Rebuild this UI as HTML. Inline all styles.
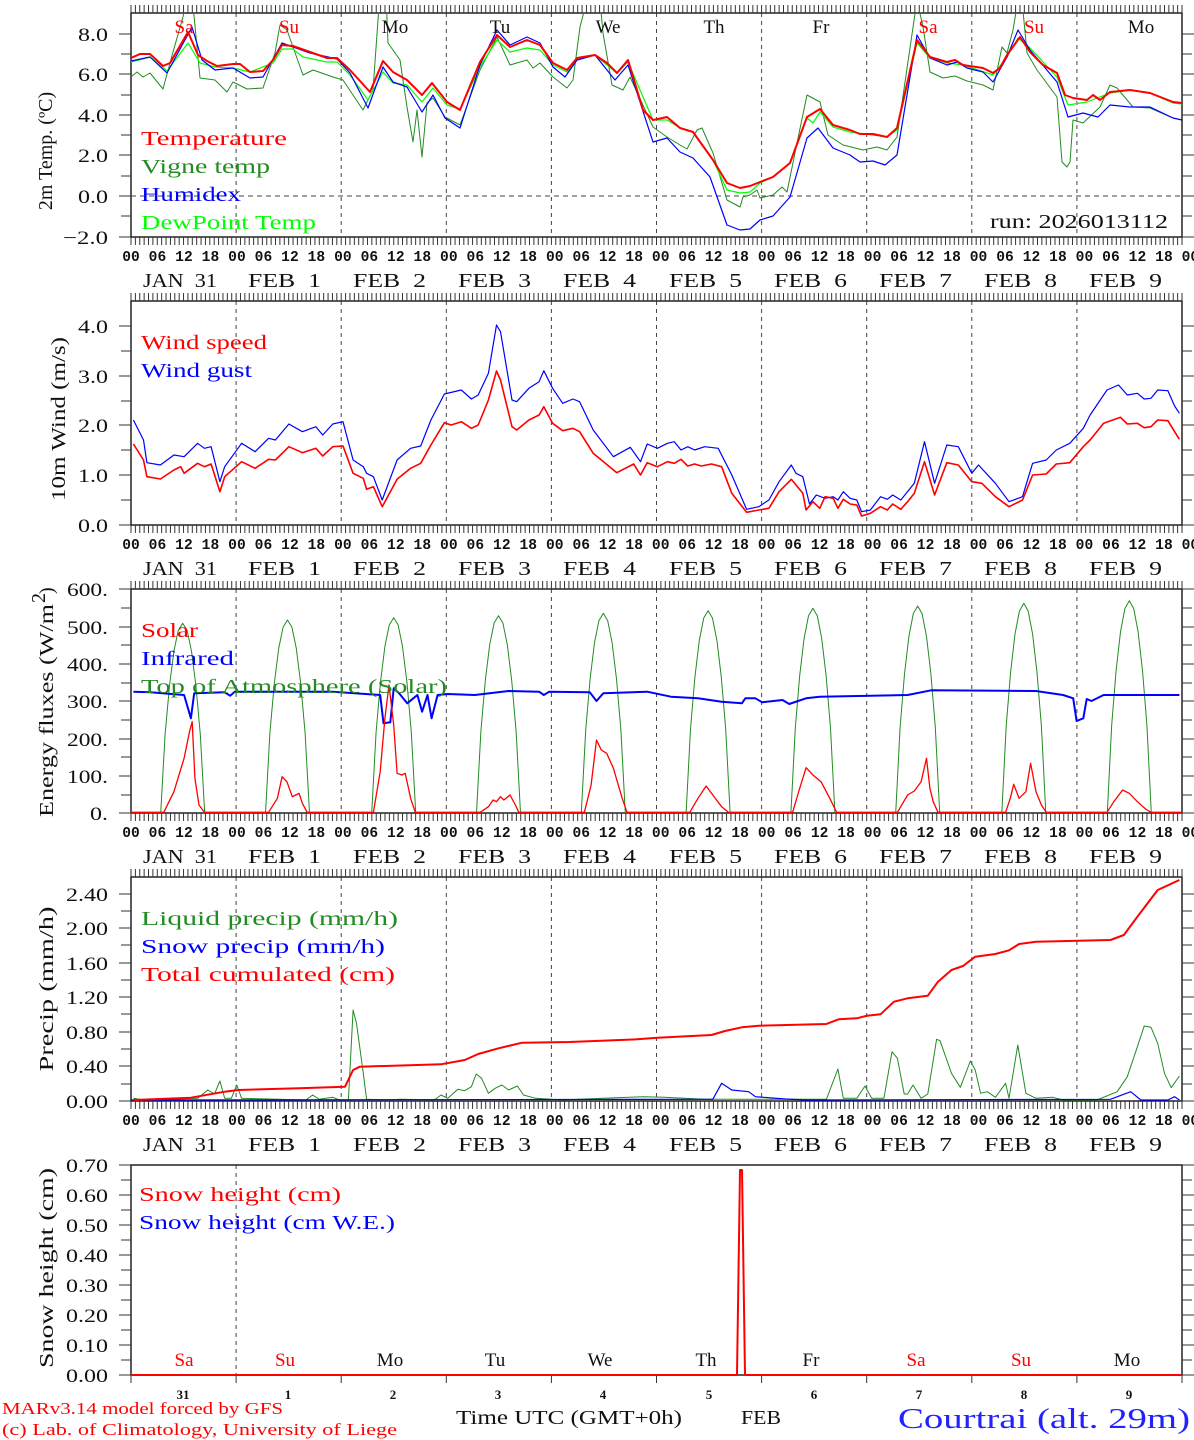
<!DOCTYPE html>
<html><head><meta charset="utf-8">
<style>
html,body{margin:0;padding:0;background:#fff;}
svg{display:block;}
text{font-family:"Liberation Serif",serif;}
.tk{font-family:"Liberation Mono",monospace;font-size:14.6px;font-weight:bold;fill:#111;}
.yl{font-size:19px;fill:#111;text-anchor:end;}
.dt{font-size:20px;fill:#111;}
.lg{font-size:20px;}
.ttl{font-size:20px;fill:#111;}
.wd{font-size:19px;text-anchor:middle;}
</style></head>
<body>
<svg id="s" width="1194" height="1440" viewBox="0 0 1194 1440" xmlns="http://www.w3.org/2000/svg" xmlns:xlink="http://www.w3.org/1999/xlink">
<defs>
<clipPath id="c1"><rect x="131" y="13" width="1051" height="224"/></clipPath>
<clipPath id="c2"><rect x="131" y="301" width="1051" height="224"/></clipPath>
<clipPath id="c3"><rect x="131" y="589" width="1051" height="224"/></clipPath>
<clipPath id="c4"><rect x="131" y="877" width="1051" height="224"/></clipPath>
<clipPath id="c5"><rect x="131" y="1165" width="1051" height="211"/></clipPath>
<g id="xrow">
<text class="tk" x="122.2" y="0" textLength="1077" lengthAdjust="spacing" xml:space="preserve">00 06 12 18 00 06 12 18 00 06 12 18 00 06 12 18 00 06 12 18 00 06 12 18 00 06 12 18 00 06 12 18 00 06 12 18 00 06 12 18 00</text>
<text class="dt" x="143" y="26" textLength="74" lengthAdjust="spacingAndGlyphs" xml:space="preserve">JAN  31</text>
<text class="dt" x="248" y="26" textLength="73" lengthAdjust="spacingAndGlyphs" xml:space="preserve">FEB  1</text>
<text class="dt" x="353" y="26" textLength="73" lengthAdjust="spacingAndGlyphs" xml:space="preserve">FEB  2</text>
<text class="dt" x="458" y="26" textLength="73" lengthAdjust="spacingAndGlyphs" xml:space="preserve">FEB  3</text>
<text class="dt" x="563" y="26" textLength="73" lengthAdjust="spacingAndGlyphs" xml:space="preserve">FEB  4</text>
<text class="dt" x="669" y="26" textLength="73" lengthAdjust="spacingAndGlyphs" xml:space="preserve">FEB  5</text>
<text class="dt" x="774" y="26" textLength="73" lengthAdjust="spacingAndGlyphs" xml:space="preserve">FEB  6</text>
<text class="dt" x="879" y="26" textLength="73" lengthAdjust="spacingAndGlyphs" xml:space="preserve">FEB  7</text>
<text class="dt" x="984" y="26" textLength="73" lengthAdjust="spacingAndGlyphs" xml:space="preserve">FEB  8</text>
<text class="dt" x="1089" y="26" textLength="73" lengthAdjust="spacingAndGlyphs" xml:space="preserve">FEB  9</text>
</g>
</defs>
<g id="grid" fill="none"></g>
<g id="series" fill="none"></g>

<use xlink:href="#xrow" href="#xrow" y="261"/>
<use xlink:href="#xrow" href="#xrow" y="549"/>
<use xlink:href="#xrow" href="#xrow" y="837"/>
<use xlink:href="#xrow" href="#xrow" y="1125"/>

<g class="wd">
<text x="184" y="33" fill="#f00">Sa</text><text x="289" y="33" fill="#f00">Su</text>
<text x="395" y="33" fill="#111">Mo</text><text x="500" y="33" fill="#111">Tu</text>
<text x="608" y="33" fill="#111">We</text><text x="714" y="33" fill="#111">Th</text>
<text x="821" y="33" fill="#111">Fr</text><text x="928" y="33" fill="#f00">Sa</text>
<text x="1034" y="33" fill="#f00">Su</text><text x="1141" y="33" fill="#111">Mo</text>
</g>
<g class="lg">
<text x="141" y="145" fill="#f00" textLength="146" lengthAdjust="spacingAndGlyphs">Temperature</text>
<text x="141" y="173" fill="#228b22" textLength="129" lengthAdjust="spacingAndGlyphs">Vigne temp</text>
<text x="141" y="201" fill="#00f" textLength="100" lengthAdjust="spacingAndGlyphs">Humidex</text>
<text x="141" y="229" fill="#0f0" textLength="175" lengthAdjust="spacingAndGlyphs">DewPoint Temp</text>
<text x="990" y="228" fill="#111" textLength="178" lengthAdjust="spacingAndGlyphs">run: 2026013112</text>
</g>
<g class="yl">
<text x="108" y="41" textLength="30" lengthAdjust="spacingAndGlyphs">8.0</text>
<text x="108" y="81" textLength="30" lengthAdjust="spacingAndGlyphs">6.0</text>
<text x="108" y="122" textLength="30" lengthAdjust="spacingAndGlyphs">4.0</text>
<text x="108" y="162" textLength="30" lengthAdjust="spacingAndGlyphs">2.0</text>
<text x="108" y="203" textLength="30" lengthAdjust="spacingAndGlyphs">0.0</text>
<text x="108" y="244" textLength="45" lengthAdjust="spacingAndGlyphs">−2.0</text>
</g>
<text class="ttl" transform="translate(52,151) rotate(-90)" text-anchor="middle">2m Temp. (ºC)</text>

<text class="lg" x="141" y="349" fill="#f00" textLength="126" lengthAdjust="spacingAndGlyphs">Wind speed</text>
<text class="lg" x="141" y="377" fill="#00f" textLength="111" lengthAdjust="spacingAndGlyphs">Wind gust</text>
<g class="yl">
<text x="108" y="333" textLength="30" lengthAdjust="spacingAndGlyphs">4.0</text>
<text x="108" y="383" textLength="30" lengthAdjust="spacingAndGlyphs">3.0</text>
<text x="108" y="432" textLength="30" lengthAdjust="spacingAndGlyphs">2.0</text>
<text x="108" y="482" textLength="30" lengthAdjust="spacingAndGlyphs">1.0</text>
<text x="108" y="532" textLength="30" lengthAdjust="spacingAndGlyphs">0.0</text>
</g>
<text class="ttl" transform="translate(65,419) rotate(-90)" text-anchor="middle" textLength="164" lengthAdjust="spacingAndGlyphs">10m Wind (m/s)</text>

<text class="lg" x="141" y="637" fill="#f00" textLength="57" lengthAdjust="spacingAndGlyphs">Solar</text>
<text class="lg" x="141" y="665" fill="#00f" textLength="93" lengthAdjust="spacingAndGlyphs">Infrared</text>
<text class="lg" x="141" y="693" fill="#228b22" textLength="306" lengthAdjust="spacingAndGlyphs">Top of Atmosphere (Solar)</text>
<g class="yl">
<text x="108" y="596" textLength="41" lengthAdjust="spacingAndGlyphs">600.</text>
<text x="108" y="634" textLength="41" lengthAdjust="spacingAndGlyphs">500.</text>
<text x="108" y="671" textLength="41" lengthAdjust="spacingAndGlyphs">400.</text>
<text x="108" y="708" textLength="41" lengthAdjust="spacingAndGlyphs">300.</text>
<text x="108" y="746" textLength="41" lengthAdjust="spacingAndGlyphs">200.</text>
<text x="108" y="783" textLength="41" lengthAdjust="spacingAndGlyphs">100.</text>
<text x="108" y="820" textLength="18" lengthAdjust="spacingAndGlyphs">0.</text>
</g>
<g transform="translate(53,701) rotate(-90)">
<text class="ttl" x="-116" y="0" textLength="213" lengthAdjust="spacingAndGlyphs">Energy fluxes (W/m</text>
<text class="ttl" x="98" y="-8" font-size="13">2</text>
<text class="ttl" x="107" y="0">)</text>
</g>

<text class="lg" x="141" y="925" fill="#228b22" textLength="257" lengthAdjust="spacingAndGlyphs">Liquid precip (mm/h)</text>
<text class="lg" x="141" y="953" fill="#00f" textLength="244" lengthAdjust="spacingAndGlyphs">Snow precip (mm/h)</text>
<text class="lg" x="141" y="981" fill="#f00" textLength="254" lengthAdjust="spacingAndGlyphs">Total cumulated (cm)</text>
<g class="yl">
<text x="108" y="901" textLength="42" lengthAdjust="spacingAndGlyphs">2.40</text>
<text x="108" y="935" textLength="42" lengthAdjust="spacingAndGlyphs">2.00</text>
<text x="108" y="970" textLength="42" lengthAdjust="spacingAndGlyphs">1.60</text>
<text x="108" y="1004" textLength="42" lengthAdjust="spacingAndGlyphs">1.20</text>
<text x="108" y="1039" textLength="42" lengthAdjust="spacingAndGlyphs">0.80</text>
<text x="108" y="1073" textLength="42" lengthAdjust="spacingAndGlyphs">0.40</text>
<text x="108" y="1108" textLength="42" lengthAdjust="spacingAndGlyphs">0.00</text>
</g>
<text class="ttl" transform="translate(53,989) rotate(-90)" text-anchor="middle" textLength="165" lengthAdjust="spacingAndGlyphs">Precip (mm/h)</text>

<text class="lg" x="139" y="1201" fill="#f00" textLength="202" lengthAdjust="spacingAndGlyphs">Snow height (cm)</text>
<text class="lg" x="139" y="1229" fill="#00f" textLength="256" lengthAdjust="spacingAndGlyphs">Snow height (cm W.E.)</text>
<g class="yl">
<text x="108" y="1172" textLength="42" lengthAdjust="spacingAndGlyphs">0.70</text>
<text x="108" y="1202" textLength="42" lengthAdjust="spacingAndGlyphs">0.60</text>
<text x="108" y="1232" textLength="42" lengthAdjust="spacingAndGlyphs">0.50</text>
<text x="108" y="1262" textLength="42" lengthAdjust="spacingAndGlyphs">0.40</text>
<text x="108" y="1292" textLength="42" lengthAdjust="spacingAndGlyphs">0.30</text>
<text x="108" y="1322" textLength="42" lengthAdjust="spacingAndGlyphs">0.20</text>
<text x="108" y="1352" textLength="42" lengthAdjust="spacingAndGlyphs">0.10</text>
<text x="108" y="1382" textLength="42" lengthAdjust="spacingAndGlyphs">0.00</text>
</g>
<text class="ttl" transform="translate(53,1268) rotate(-90)" text-anchor="middle" textLength="200" lengthAdjust="spacingAndGlyphs">Snow height (cm)</text>
<g class="wd">
<text x="184" y="1366" fill="#f00">Sa</text><text x="285" y="1366" fill="#f00">Su</text>
<text x="390" y="1366" fill="#111">Mo</text><text x="495" y="1366" fill="#111">Tu</text>
<text x="600" y="1366" fill="#111">We</text><text x="706" y="1366" fill="#111">Th</text>
<text x="811" y="1366" fill="#111">Fr</text><text x="916" y="1366" fill="#f00">Sa</text>
<text x="1021" y="1366" fill="#f00">Su</text><text x="1127" y="1366" fill="#111">Mo</text>
</g>
<g font-size="13" font-weight="bold" fill="#111" text-anchor="middle">
<text x="183" y="1399">31</text><text x="288" y="1399">1</text><text x="393" y="1399">2</text>
<text x="498" y="1399">3</text><text x="603" y="1399">4</text><text x="709" y="1399">5</text>
<text x="814" y="1399">6</text><text x="919" y="1399">7</text><text x="1024" y="1399">8</text>
<text x="1129" y="1399">9</text>
</g>
<text x="2" y="1414" font-size="17" fill="#f00" textLength="281" lengthAdjust="spacingAndGlyphs">MARv3.14 model forced by GFS</text>
<text x="2" y="1435" font-size="17" fill="#f00" textLength="395" lengthAdjust="spacingAndGlyphs">(c) Lab. of Climatology, University of Liege</text>
<text x="456" y="1424" font-size="20" fill="#111" textLength="226" lengthAdjust="spacingAndGlyphs">Time UTC (GMT+0h)</text>
<text x="741" y="1424" font-size="20" fill="#111" textLength="40" lengthAdjust="spacingAndGlyphs">FEB</text>
<text x="898" y="1428" font-size="28" fill="#22f" textLength="292" lengthAdjust="spacingAndGlyphs">Courtrai (alt. 29m)</text>
</svg>
<script>
(function(){
var NS="http://www.w3.org/2000/svg";
var G=document.getElementById("grid"),S=document.getElementById("series");
function el(p,tag,a){var e=document.createElementNS(NS,tag);for(var k in a)e.setAttribute(k,a[k]);p.appendChild(e);return e;}
var X0=131,X1=1182,DW=(X1-X0)/10;
var panels=[[13,237],[301,525],[589,813],[877,1101],[1165,1375]];
var ticksY=[
 {v:[[34,1],[54,0],[74,1],[95,0],[115,1],[135,0],[155,1],[176,0],[196,1],[216,0],[237,1]]},
 {v:[[326,1],[351,0],[376,1],[401,0],[425,1],[450,0],[475,1],[500,0],[525,1]]},
 {v:[[589,1],[608,0],[627,1],[645,0],[664,1],[683,0],[701,1],[720,0],[739,1],[757,0],[776,1],[795,0],[813,1]]},
 {v:[[894,1],[911,0],[928,1],[945,0],[963,1],[980,0],[997,1],[1014,0],[1032,1],[1049,0],[1066,1],[1084,0],[1101,1]]},
 {v:[[1165,1],[1180,0],[1195,1],[1210,0],[1225,1],[1240,0],[1255,1],[1270,0],[1285,1],[1300,0],[1315,1],[1330,0],[1345,1],[1360,0],[1375,1]]}
];
var d="";
panels.forEach(function(p,i){
  var t=p[0],b=p[1];
  var dd="";
  for(var k=1;k<10;k++){ if(i==4&&k!=1)continue; var x=X0+k*DW; dd+="M"+x+" "+t+"V"+b;}
  el(G,"path",{d:dd,stroke:"#444","stroke-width":1,"stroke-dasharray":"4,4"});
  if(i<4){
    for(var h=0;h<=240;h++){var x=X0+h*DW/24; d+="M"+x+" "+t+"v-8M"+x+" "+b+"v8";}
  } else {
    for(var k=0;k<=10;k++){var x=X0+k*DW; d+="M"+x+" "+b+"v8";}
  }
  ticksY[i].v.forEach(function(q){var L=q[1]?12:10; d+="M"+X0+" "+q[0]+"h-"+L+"M"+X1+" "+q[0]+"h"+L;});
  el(G,"rect",{x:X0,y:t,width:X1-X0,height:b-t,stroke:"#222","stroke-width":1.5});
});
el(G,"path",{d:d,stroke:"#333","stroke-width":1});
el(G,"path",{d:"M131 196H1182",stroke:"#444","stroke-width":1,"stroke-dasharray":"5,4"});

function P(pts,color,w,clip,fx){
  var s="";pts.forEach(function(q,i){var x=q[0],y=q[1];if(fx){var r=fx(x,y);x=r[0];y=r[1];}s+=(i?"L":"M")+x.toFixed(1)+" "+y.toFixed(1);});
  el(S,"path",{d:s,stroke:color,"stroke-width":w,"clip-path":"url(#"+clip+")","stroke-linejoin":"round"});
}
var vig=[[131,77],[137,72],[143,77],[150,73],[163,89],[173,52],[183,17],[188,-5],[192,-5],[200,78],[215,80],[227,92],[233,82],[247,89],[263,88],[275,53],[280,25],[287,30],[293,47],[303,75],[313,70],[333,77],[343,80],[363,110],[373,90],[378,20],[380,-5],[386,-5],[388,43],[400,60],[407,107],[413,142],[417,110],[422,157],[427,103],[433,98],[445,117],[460,125],[480,70],[497,37],[510,65],[527,60],[533,68],[540,63],[553,77],[567,88],[573,80],[580,27],[587,0],[600,0],[603,33],[612,85],[623,90],[630,77],[653,127],
[667,137],[680,145],[687,149],[697,130],[702,128],[713,153],[727,200],[740,207],[743,197],[750,195],[757,190],[760,198],[773,195],[782,187],[787,192],[797,143],[807,95],[820,102],[828,135],[843,145],[863,150],[877,147],[887,150],[897,137],[917,0],[923,27],[930,72],[943,78],[955,76],[967,81],[983,85],[993,90],[1002,47],[1007,53],[1013,30],[1018,0],[1022,0],[1027,53],[1037,70],[1057,97],[1062,162],[1067,167],[1070,162],[1073,120],[1083,123],[1100,107],[1110,85],[1117,88],[1133,107],[1150,108],[1173,118],[1182,120]];
var dew=[[131,62],[150,57],[167,71],[188,43],[200,63],[215,67],[233,68],[250,72],[273,63],[282,49],[293,49],[303,57],[327,62],[337,62],[350,75],[368,100],[383,72],[393,83],[407,85],[422,102],[433,88],[447,105],[460,109],[480,67],[497,40],[510,52],[527,48],[540,50],[553,65],[567,72],[577,60],[595,55],[607,65],[617,73],[628,62],[653,120],
[667,120],[680,128],[693,132],[713,160],[727,190],[740,193],[750,192],[760,183],[773,177],[790,163],[807,118],[813,123],[820,112],[833,127],[850,132],[873,135],[887,137],[897,130],[917,43],[930,58],[947,63],[963,65],[993,75],[1007,57],[1018,38],[1030,48],[1057,77],[1068,105],[1087,102],[1110,93],[1130,90],[1150,93],[1173,103],[1182,104]];
var hum=[[131,61],[150,57],[167,73],[192,27],[202,60],[215,70],[233,68],[250,78],[263,77],[282,43],[310,53],[337,59],[350,73],[368,108],[383,67],[393,82],[407,87],[422,112],[433,95],[445,118],[460,128],[480,65],[497,30],[510,45],[527,37],[540,43],[553,67],[565,77],[577,60],[595,55],[615,80],[628,65],[653,142],
[667,138],[680,152],[693,158],[710,177],[727,225],[740,230],[750,229],[760,220],[773,216],[790,197],[807,138],[818,128],[833,148],[850,155],[860,162],[873,161],[885,165],[897,155],[917,35],[930,58],[947,65],[957,62],[967,68],[983,72],[993,82],[1007,57],[1018,30],[1030,50],[1057,82],[1068,117],[1083,113],[1098,117],[1110,105],[1130,107],[1150,107],[1173,118],[1182,120]];
var tmp=[[131,58],[140,54],[150,54],[163,66],[170,63],[188,32],[198,55],[207,61],[217,66],[233,64],[240,64],[250,72],[263,71],[273,60],[282,45],[293,46],[310,52],[327,58],[337,58],[350,70],[370,92],[383,61],[393,72],[407,80],[422,95],[432,83],[447,102],[460,110],[480,62],[497,35],[510,47],[527,40],[540,45],[553,63],[567,70],[577,58],[595,55],[607,63],[617,73],[628,60],[643,110],[653,120],
[667,117],[680,128],[693,132],[713,160],[727,183],[740,188],[750,186],[760,182],[773,177],[790,163],[807,117],[820,109],[833,125],[850,130],[860,134],[873,134],[887,137],[897,128],[917,40],[930,57],[947,62],[955,60],[963,65],[983,68],[993,73],[1000,68],[1007,55],[1020,37],[1030,52],[1043,65],[1057,73],[1065,95],[1073,98],[1087,100],[1093,95],[1100,100],[1110,92],[1130,90],[1150,93],[1173,102],[1182,103]];
P(vig,"#228b22",1,"c1");P(dew,"#0f0",1.2,"c1");P(hum,"#00f",1.2,"c1");P(tmp,"#f00",2,"c1");

var f2=function(x,y){return [130+x/1.479,300+y/3];};
var gust=[[5,360],[20,420],[25,488],[45,495],[65,465],[80,470],[100,430],[110,445],[120,440],[133,545],[140,500],[165,430],[185,455],[205,415],[215,420],[235,372],[255,395],[275,380],[285,405],[300,372],[315,365],[330,480],[345,500],[350,520],[360,530],[373,600],[395,480],[415,445],[430,438],[445,360],[465,282],[490,270],[505,297],[515,285],[530,220],[542,75],[548,95],[565,300],[572,305],[590,265],[605,245],[612,212],[625,265],[640,310],[655,297],[665,305],[685,390],[715,470],[740,442],[755,485],[765,432],[780,445],[795,430],[805,425],[815,450],[825,440],[835,450],[850,440],[870,445],[890,525],[912,628],[930,620],[945,600],[960,545],[978,495],[985,520],[995,530],[1005,612],[1015,585],[1028,595],[1040,590],[1047,600],[1055,575],[1065,595],[1075,600],[1082,635],[1095,630],[1110,590],[1120,598],[1128,585],[1140,600],[1160,550],[1175,425],[1190,550],[1208,435],[1225,440],[1245,520],[1255,495],[1280,550],[1300,605],[1320,590],[1335,490],[1355,480],[1370,450],[1390,430],[1410,385],[1420,345],[1445,270],[1462,255],[1475,285],[1490,280],[1500,297],[1510,295],[1520,270],[1535,272],[1545,318],[1552,340]];
var spd=[[5,432],[20,480],[25,530],[45,537],[65,510],[75,500],[80,520],[100,490],[110,500],[120,492],[133,575],[140,530],[165,485],[185,505],[205,478],[215,480],[235,440],[255,458],[275,445],[285,468],[300,440],[315,438],[330,520],[345,535],[350,568],[360,560],[373,620],[395,538],[415,505],[430,490],[445,435],[465,368],[475,375],[490,365],[505,385],[515,375],[530,300],[542,213],[548,240],[565,380],[572,390],[590,360],[605,345],[612,320],[625,370],[640,392],[655,385],[665,395],[685,460],[720,518],[745,492],[755,525],[765,488],[780,500],[795,485],[805,490],[815,478],[825,498],[835,492],[845,498],[860,492],[875,500],[890,580],[912,637],[930,630],[945,625],[960,575],[978,538],[995,580],[1000,630],[1010,605],[1020,625],[1028,590],[1040,595],[1047,625],[1055,598],[1065,612],[1075,615],[1082,648],[1095,640],[1110,620],[1120,630],[1128,612],[1140,628],[1150,605],[1160,580],[1175,485],[1190,585],[1208,488],[1225,495],[1245,545],[1260,550],[1280,590],[1300,620],[1320,600],[1335,525],[1355,522],[1370,492],[1390,488],[1410,440],[1420,420],[1440,370],[1465,352],[1475,372],[1490,370],[1500,383],[1510,380],[1520,360],[1535,362],[1545,395],[1552,418]];
P(gust,"#00f",1.2,"c2",f2);P(spd,"#f00",1.6,"c2",f2);

var f3=function(x,y){return [130+x/1.479,585+y/3];};
var peaks=[[78,115],[233,105],[390,98],[545,92],[700,85],[855,77],[1010,70],[1165,63],[1322,55],[1478,47]];
var toa=[[131,813]];
peaks.forEach(function(pk){var cx=130+pk[0]/1.479,py=585+pk[1]/3,A=813-py,hw=22;
  for(var o=-hw;o<=hw;o+=hw/5){var f=Math.pow(Math.cos(Math.PI/2*Math.abs(o)/hw),0.75);toa.push([cx+o,813-A*f]);}
});
toa.push([1182,813]);
P(toa,"#228b22",1,"c3");
var ir=[[5,320],[30,322],[80,330],[90,400],[95,325],[140,322],[148,332],[155,320],[300,320],[370,330],[375,415],[385,412],[390,310],[398,325],[410,355],[425,330],[432,380],[440,330],[446,400],[455,330],[470,327],[510,330],[560,318],[605,320],[612,330],[620,320],[680,322],[690,348],[700,325],[765,320],[800,335],[840,340],[875,350],[905,355],[910,340],[925,340],[935,352],[965,345],[975,357],[1000,340],[1020,335],[1150,330],[1185,316],[1340,318],[1380,330],[1395,340],[1400,408],[1410,400],[1415,342],[1422,348],[1440,330],[1552,330]];
P(ir,"#00f",2,"c3",f3);
var sol=[[0,682],[50,682],[65,620],[80,520],[88,440],[92,410],[96,580],[102,660],[110,682],[205,682],[218,640],[225,575],[232,590],[240,635],[245,630],[250,625],[255,655],[262,682],[360,682],[370,560],[377,400],[383,300],[390,420],[395,565],[402,570],[407,565],[415,640],[422,682],[518,682],[530,665],[537,645],[542,650],[548,635],[553,645],[562,630],[570,660],[575,682],[672,682],[682,600],[690,465],[697,495],[705,505],[715,550],[728,640],[735,682],[828,682],[840,640],[852,603],[862,630],[875,665],[885,682],[980,682],[992,600],[1000,548],[1010,570],[1022,590],[1035,640],[1045,682],[1135,682],[1150,630],[1160,618],[1170,590],[1178,520],[1183,610],[1188,650],[1195,682],[1295,682],[1302,640],[1307,598],[1315,640],[1325,620],[1332,535],[1340,620],[1348,660],[1355,682],[1445,682],[1455,650],[1468,615],[1478,625],[1490,650],[1502,672],[1510,682],[1560,682]];
P(sol,"#f00",1.3,"c3",f3);

var f4=function(x,y){return [130+x/1.479,870+y/3];};
var liq=[[5,685],[20,690],[100,685],[115,660],[125,672],[133,633],[140,685],[150,685],[158,645],[165,685],[260,690],[270,675],[280,688],[300,682],[310,690],[323,690],[330,420],[335,460],[345,610],[350,688],[380,690],[400,688],[450,690],[460,675],[470,685],[485,658],[495,662],[505,650],[512,612],[520,625],[530,670],[540,655],[550,645],[560,660],[573,648],[582,675],[600,685],[640,690],[700,685],[760,680],[790,682],[850,688],[1030,688],[1047,597],[1055,685],[1075,685],[1087,648],[1097,685],[1115,685],[1127,545],[1135,565],[1145,672],[1150,672],[1158,645],[1170,685],[1180,672],[1193,508],[1198,512],[1215,610],[1228,652],[1243,573],[1250,600],[1258,670],[1268,665],[1280,682],[1295,640],[1300,685],[1313,525],[1325,670],[1340,685],[1365,682],[1380,690],[1430,690],[1460,665],[1475,620],[1490,530],[1500,468],[1510,472],[1520,520],[1530,610],[1540,653],[1552,618]];
var snw=[[0,690],[862,688],[875,640],[890,660],[915,665],[925,680],[970,687],[1000,690],[1450,688],[1480,665],[1495,690],[1535,690],[1545,680],[1552,690]];
var cum=[[5,690],[90,683],[140,665],[160,660],[250,655],[318,650],[330,600],[340,590],[460,583],[495,570],[515,552],[545,535],[580,518],[650,516],[750,508],[780,503],[860,495],[880,483],[905,472],[930,467],[1030,462],[1048,448],[1075,445],[1090,437],[1110,433],[1130,395],[1150,385],[1180,377],[1195,335],[1215,300],[1232,288],[1250,260],[1280,252],[1300,241],[1315,222],[1340,215],[1450,210],[1470,195],[1490,140],[1520,60],[1552,30]];
P(liq,"#228b22",1,"c4",f4);P(snw,"#00f",1.2,"c4",f4);P(cum,"#f00",2,"c4",f4);

P([[131,1375],[737,1375],[740,1170],[742,1170],[745,1375],[1182,1375]],"#f00",2,"c5");
})();
</script>
</body></html>
